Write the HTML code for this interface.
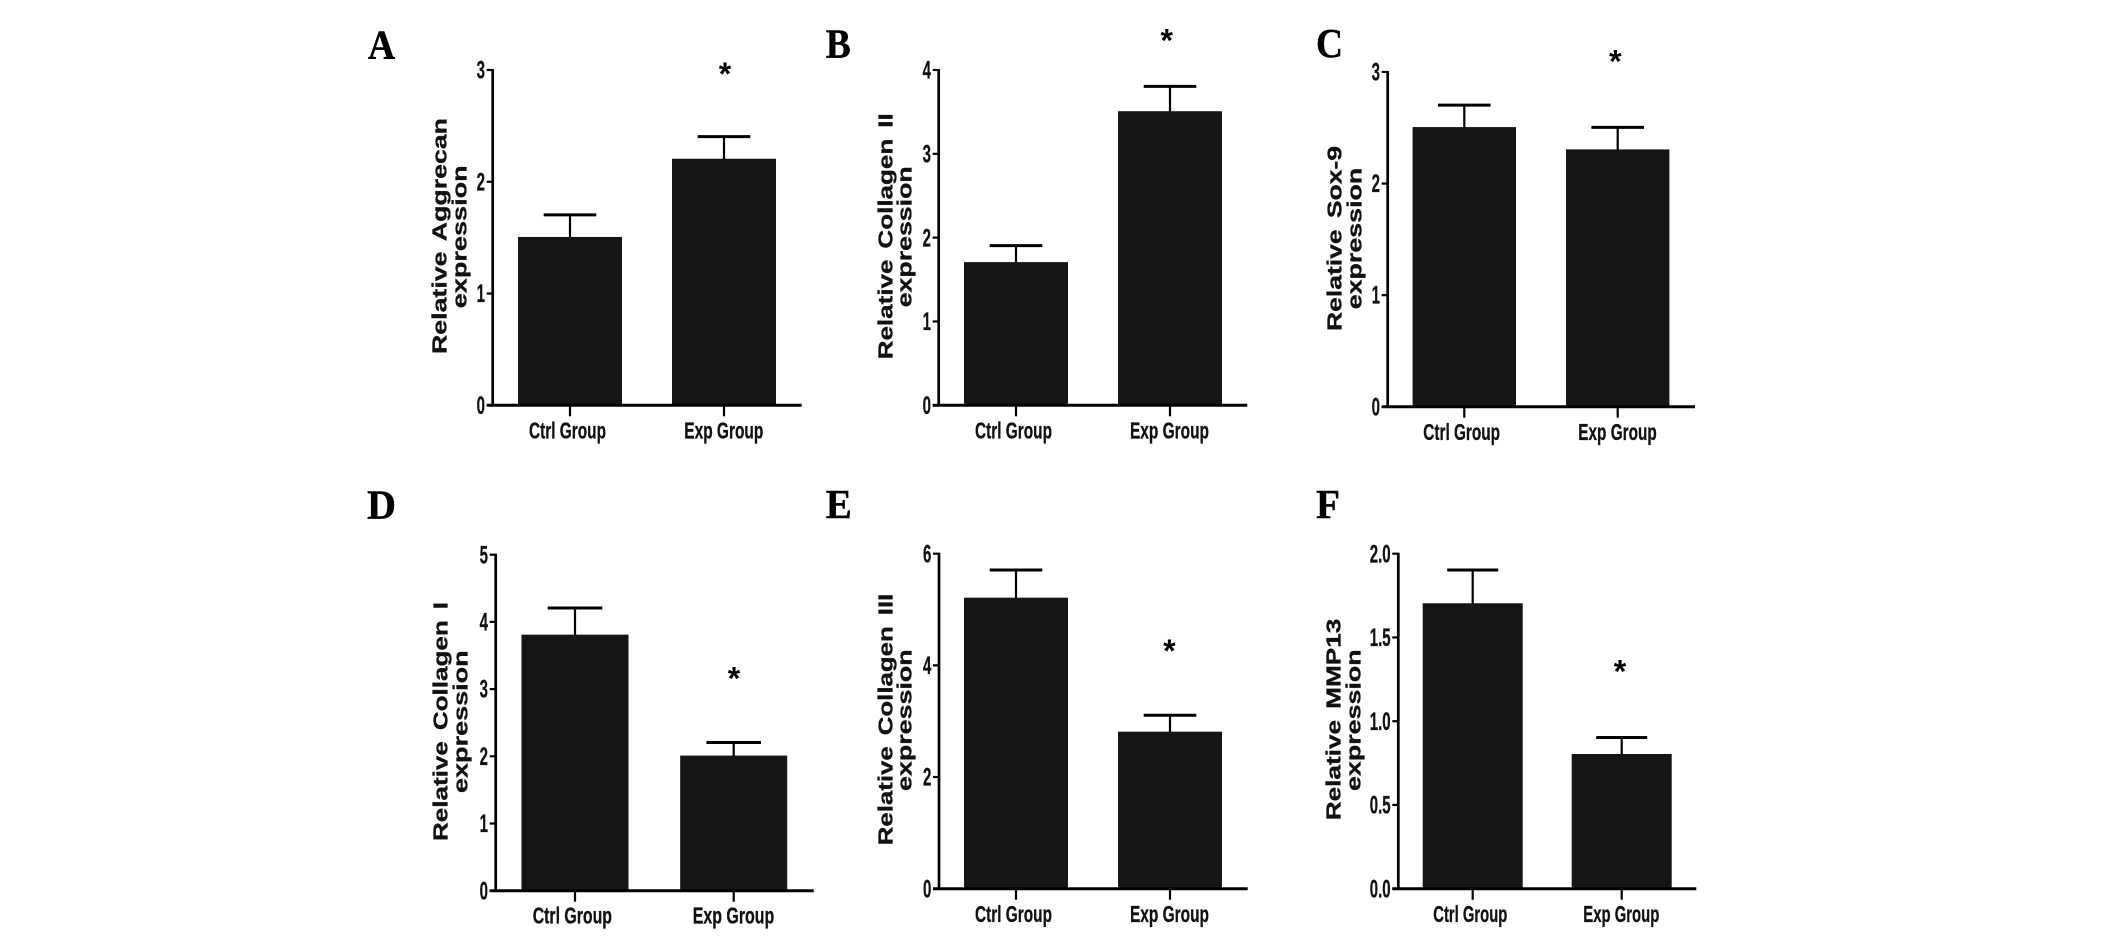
<!DOCTYPE html>
<html lang="en">
<head>
<meta charset="utf-8">
<title>Relative gene expression bar charts</title>
<style>
html,body{margin:0;padding:0;background:#fff;width:2126px;height:937px;overflow:hidden}
svg{display:block}
text{fill:#111}
.panel-letter{font-family:"Liberation Serif",serif;font-weight:bold;font-size:41px;fill:#000;stroke:#000;stroke-width:.4px}
.tick-label{font-family:"Liberation Sans",sans-serif;font-weight:bold;font-size:25px;stroke:#111;stroke-width:.3px}
.y-title{font-family:"Liberation Sans",sans-serif;font-weight:bold;font-size:20.5px;word-spacing:3px;stroke:#111;stroke-width:.3px}
.x-label{font-family:"Liberation Sans",sans-serif;font-weight:bold;font-size:23.5px;stroke:#111;stroke-width:.3px}
.star{font-family:"Liberation Sans",sans-serif;font-weight:bold;font-size:32px;fill:#000}
</style>
</head>
<body>
<svg id="figure" width="2126" height="937" viewBox="0 0 2126 937" xmlns="http://www.w3.org/2000/svg"></svg>
<script>
// ---- Data ----
const panelLetters = ['A', 'B', 'C', 'D', 'E', 'F'];
const categories = ['Ctrl Group', 'Exp Group'];
const ctrlValues = [1.5, 1.7, 2.5, 3.8, 5.2, 1.7];
const expValues = [2.2, 3.5, 2.3, 2.0, 2.8, 0.8];
const ctrlErrorTops = [1.7, 1.9, 2.7, 4.2, 5.7, 1.9];
const expErrorTops = [2.4, 3.8, 2.5, 2.2, 3.1, 0.9];
const starLevels = [3.0, 4.4, 3.13, 3.22, 4.33, 1.32];
const axisMaxima = [3, 4, 3, 5, 6, 2];
const tickLabelsA = ['0', '1', '2', '3'];
const tickLabelsB = ['0', '1', '2', '3', '4'];
const tickLabelsC = ['0', '1', '2', '3'];
const tickLabelsD = ['0', '1', '2', '3', '4', '5'];
const tickLabelsE = ['0', '2', '4', '6'];
const tickLabelsF = ['0.0', '0.5', '1.0', '1.5', '2.0'];
const tickLabels = [tickLabelsA, tickLabelsB, tickLabelsC, tickLabelsD, tickLabelsE, tickLabelsF];
const titleFirstLines = ['Relative Aggrecan', 'Relative Collagen II', 'Relative Sox-9', 'Relative Collagen I', 'Relative Collagen III', 'Relative MMP13'];
const titleSecondLine = 'expression';

// ---- Panel geometry (layout only) ----
const layouts = [
  {axisX:492.7, top:70, bottom:405.3, xEnd:801.7, c0:570, c1:724, barHalf:52, capHalf:26.3, letterX:368, letterY:58.3, letterW:27, starX:725, t1:[446.7,354,236], t2:[465.7,308.3,143], xl:[529,77,684.3,79], xlY:438.7},
  {axisX:938.7, top:70, bottom:405.3, xEnd:1247.3, c0:1016, c1:1170, barHalf:52, capHalf:26.3, letterX:825.7, letterY:57.3, letterW:25, starX:1166.7, t1:[892.3,359.3,246], t2:[911,307.3,141], xl:[975,77,1130,79], xlY:438.7},
  {axisX:1387.7, top:72, bottom:406.7, xEnd:1695, c0:1464.3, c1:1617.7, barHalf:51.7, capHalf:26.3, letterX:1316, letterY:57, letterW:27, starX:1615.3, t1:[1341.7,331,185], t2:[1361,309.3,141.6], xl:[1423.3,76.7,1578.3,78.4], xlY:440},
  {axisX:495.7, top:554.7, bottom:890.7, xEnd:813.7, c0:575, c1:733.7, barHalf:53.5, capHalf:27.3, letterX:367, letterY:518.3, letterW:29, starX:734, t1:[447.7,841,239], t2:[466.7,793,142.7], xl:[532.7,79.3,692.7,81.6], xlY:923.7},
  {axisX:939, top:553.7, bottom:888.7, xEnd:1247.7, c0:1016, c1:1170, barHalf:52, capHalf:26.3, letterX:825.7, letterY:518, letterW:26, starX:1169.3, t1:[892.3,845.3,251.6], t2:[911,791,141.7], xl:[975,77,1130,79], xlY:922},
  {axisX:1398.3, top:553.7, bottom:888.7, xEnd:1696.3, c0:1472.7, c1:1621.7, barHalf:50, capHalf:25.5, letterX:1316, letterY:518, letterW:24, starX:1620, t1:[1340.7,820.3,201.6], t2:[1360,791,141.7], xl:[1433.3,74,1583.3,76], xlY:922}
];

const SVG_NS = 'http://www.w3.org/2000/svg';
const root = document.getElementById('figure');
const INK = '#000';
const BAR_FILL = '#151515';

function addLine(parent, x1, y1, x2, y2, width) {
  const el = document.createElementNS(SVG_NS, 'line');
  el.setAttribute('x1', x1);
  el.setAttribute('y1', y1);
  el.setAttribute('x2', x2);
  el.setAttribute('y2', y2);
  el.setAttribute('stroke', INK);
  el.setAttribute('stroke-width', width);
  parent.appendChild(el);
  return el;
}

function addText(parent, cls, content, x, y) {
  const el = document.createElementNS(SVG_NS, 'text');
  el.setAttribute('class', cls);
  el.setAttribute('x', x);
  el.setAttribute('y', y);
  el.textContent = content;
  parent.appendChild(el);
  return el;
}

function fitWidth(el, width) {
  el.setAttribute('textLength', width);
  el.setAttribute('lengthAdjust', 'spacingAndGlyphs');
}

function drawPanel(p) {
  const L = layouts[p];
  const key = panelLetters[p].toLowerCase();
  const yScale = function (v) { return L.bottom - (v / axisMaxima[p]) * (L.bottom - L.top); };
  const xScale = function (i) { return L.c0 + i * (L.c1 - L.c0); };

  const g = document.createElementNS(SVG_NS, 'g');
  
  
  root.appendChild(g);

  const letter = addText(g, 'panel-letter', panelLetters[p], L.letterX, L.letterY);
  fitWidth(letter, L.letterW);
  
  

  // Bars and error bars
  const values = [ctrlValues[p], expValues[p]];
  const errorTops = [ctrlErrorTops[p], expErrorTops[p]];
  categories.forEach(function (cat, i) {
    const cx = xScale(i);
    const suffix = key + '-' + (i === 0 ? 'ctrl' : 'exp');

    const stem = addLine(g, cx, yScale(errorTops[i]), cx, yScale(values[i]), 2.2);
    
    

    const cap = addLine(g, cx - L.capHalf, yScale(errorTops[i]) - 0.4, cx + L.capHalf, yScale(errorTops[i]) - 0.4, 3);
    
    

    const bar = document.createElementNS(SVG_NS, 'rect');
    bar.setAttribute('x', cx - L.barHalf);
    bar.setAttribute('y', yScale(values[i]) - 0.7);
    bar.setAttribute('width', L.barHalf * 2);
    bar.setAttribute('height', yScale(0) - yScale(values[i]) + 0.7);
    bar.setAttribute('fill', BAR_FILL);
    
    
    g.appendChild(bar);

    const tick = addLine(g, cx, L.bottom, cx, L.bottom + 11, 2.2);
    
    

    const label = addText(g, 'x-label', cat, L.xl[i * 2], L.xlY);
    fitWidth(label, L.xl[i * 2 + 1]);
    
    
  });

  // Axes
  const yAxis = addLine(g, L.axisX, L.top - 1, L.axisX, L.bottom + 1, 2.7);
  
  

  const xAxis = addLine(g, L.axisX - 6, L.bottom, L.xEnd, L.bottom, 3);
  
  

  // Y ticks
  tickLabels[p].forEach(function (txt) {
    const y = yScale(parseFloat(txt));

    const tick = addLine(g, L.axisX - 6, y, L.axisX, y, 2.2);
    
    

    const label = addText(g, 'tick-label', txt, 0, 0);
    label.setAttribute('text-anchor', 'end');
    label.setAttribute('transform', 'translate(' + (L.axisX - 7.7) + ',' + (y + 8.6) + ') scale(0.6,1)');
    
    
  });

  // Rotated y-axis titles
  const title1 = addText(g, 'y-title', titleFirstLines[p], 0, 0);
  title1.setAttribute('transform', 'translate(' + L.t1[0] + ',' + L.t1[1] + ') rotate(-90)');
  fitWidth(title1, L.t1[2]);
  
  

  const title2 = addText(g, 'y-title', titleSecondLine, 0, 0);
  title2.setAttribute('transform', 'translate(' + (L.t2[0] + 0.6) + ',' + L.t2[1] + ') rotate(-90)');
  fitWidth(title2, L.t2[2]);
  
  

  // Significance marker (level = centre of the asterisk on the value axis)
  const star = addText(g, 'star', '*', L.starX, yScale(starLevels[p]) + 15);
  star.setAttribute('text-anchor', 'middle');
  
  
}

panelLetters.forEach(function (_, p) { drawPanel(p); });
</script>
</body>
</html>
